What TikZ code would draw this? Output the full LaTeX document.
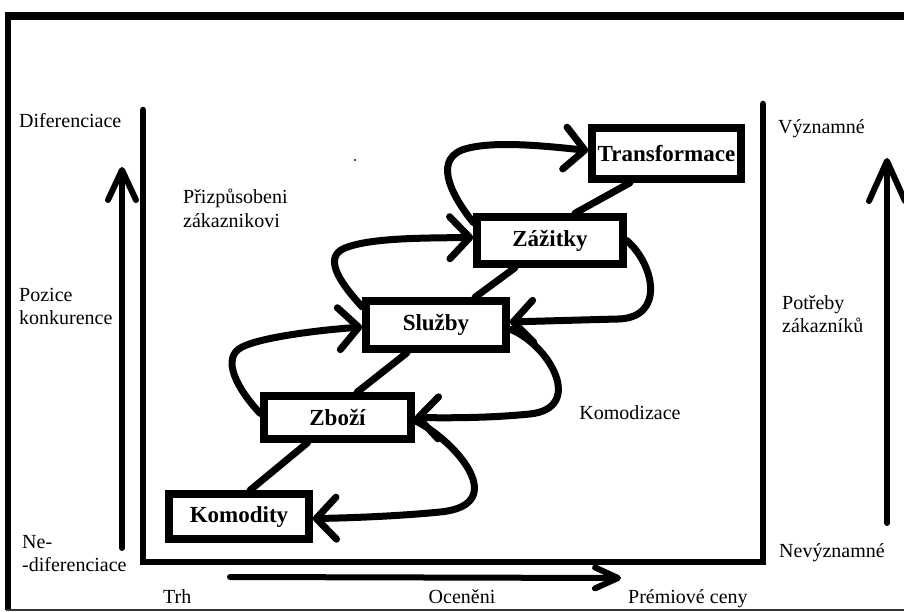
\documentclass[tikz,border=0pt]{standalone}
\usepackage{fontspec}
\setmainfont{Liberation Serif}
\usetikzlibrary{arrows.meta,calc}
\begin{document}
\begin{tikzpicture}[x=1pt,y=-1pt,
  box/.style={draw,line width=7.5pt,inner sep=0pt,fill=white,font=\fontsize{23}{27}\selectfont\bfseries},
  conn/.style={line width=7pt,line cap=round,line join=round},
  arr/.style={conn,-{Straight Barb[length=20pt,width=42pt,round]}},
  axis/.style={line width=6pt,line cap=round},
  lbl/.style={font=\fontsize{20}{23.5}\selectfont,inner sep=0pt,align=left}]
\useasboundingbox (0,0) rectangle (904,612);
% outer frame
\draw[line width=8pt] (5,16.5) -- (904,16.5);
\draw[line width=6pt] (8,13) -- (8,610);
\draw[line width=2pt,black!80] (6,609.5) -- (904,609.5);
% inner frame
\draw[line width=6.5pt,line cap=round,line join=miter] (143,110) -- (143,562) -- (763,562) -- (763,104);
% axis arrows
\coordinate (l1) at (122,548); \coordinate (l2) at (122,167);
\coordinate (r1) at (887,523); \coordinate (r2) at (887,158);
\coordinate (b1) at (230,577); \coordinate (b2) at (621,578);
\draw[axis,-{Straight Barb[length=30pt,width=28pt,round]}] (l1) -- (l2);
\draw[axis,-{Straight Barb[length=40pt,width=36pt,round]}] (r1) -- (r2);
\draw[axis,-{Straight Barb[length=23pt,width=21pt,round]}] (b1) -- (b2);
% boxes
\node[box,minimum width=149pt,minimum height=51pt] (tr) at (666.5,153.5) {Transformace};
\node[box,minimum width=146pt,minimum height=47pt] (za) at (550,240.5) {Zážitky};
\node[box,minimum width=140pt,minimum height=48pt] (sl) at (436,325) {Služby};
\node[box,minimum width=147pt,minimum height=43pt] (zb) at (337.5,417.5) {Zboží};
\node[box,minimum width=140pt,minimum height=45pt] (ko) at (239,516.5) {Komodity};
% straight links
\draw[conn] ($(ko.north)+(11,0)$) -- ($(zb.south)+(-30,0)$);
\draw[conn] ($(zb.north)+(19.5,0)$) -- ($(sl.south)+(-29,0)$);
\draw[conn] ($(sl.north)+(39,0)$) -- ($(za.south)+(-35,0)$);
\draw[conn] ($(za.north)+(25,0)$) -- ($(tr.south)+(-36.5,0)$);
% upward curved arrows (left)
\draw[arr] ($(zb.west)+(0,-4)$) .. controls (238,390) and (220,358) .. (242,347)
  .. controls (262,337) and (320,330) .. ($(sl.west)+(0,2)$);
\draw[arr] ($(sl.west)+(0,-18)$) .. controls (345,288) and (320,258) .. (345,248)
  .. controls (370,238) and (420,238) .. ($(za.west)+(0,-3)$);
\draw[arr] ($(za.west)+(0,-18)$) .. controls (455,200) and (432,162) .. (462,150)
  .. controls (490,140) and (545,146) .. ($(tr.west)+(0,-3)$);
% downward curved arrows (right)
\draw[arr] (za.east) .. controls (655,265) and (665,318) .. (618,319)
  .. controls (580,320) and (545,321) .. ($(sl.east)+(0,-3)$);
\draw[arr] ($(sl.east)+(0,4)$) .. controls (550,345) and (585,408) .. (530,414)
  .. controls (490,418) and (450,418) .. (zb.east);
\draw[arr] ($(zb.east)+(0,3)$) .. controls (455,440) and (512,505) .. (440,512)
  .. controls (400,516) and (350,518) .. ($(ko.east)+(0,2)$);
% stray dot
\fill[black!70] (354,159) rectangle (356,161);
% labels
\node[lbl,anchor=west] (dif) at (19,121) {Diferenciace};
\node[lbl,anchor=west] (poz) at (19,306.5) {Pozice\\konkurence};
\node[lbl,anchor=west] (ned) at (22,553.5) {Ne-\\-diferenciace};
\node[lbl,anchor=base west] (trh) at (163,603) {Trh};
\node[lbl,anchor=base] (oce) at (462,603) {Oceněni};
\node[lbl,anchor=base west] (pre) at (628,603) {Prémiové ceny};
\node[lbl,anchor=base west] (vyz) at (778,134) {Významné};
\node[lbl,anchor=west] (pot) at (782,314) {Potřeby\\zákazníků};
\node[lbl,anchor=base west] (nev) at (779,557) {Nevýznamné};
\node[lbl,anchor=west] (pri) at (183,208.5) {Přizpůsobeni\\zákaznikovi};
\node[lbl] (kmd) at (630,413) {Komodizace};
\end{tikzpicture}
\end{document}
